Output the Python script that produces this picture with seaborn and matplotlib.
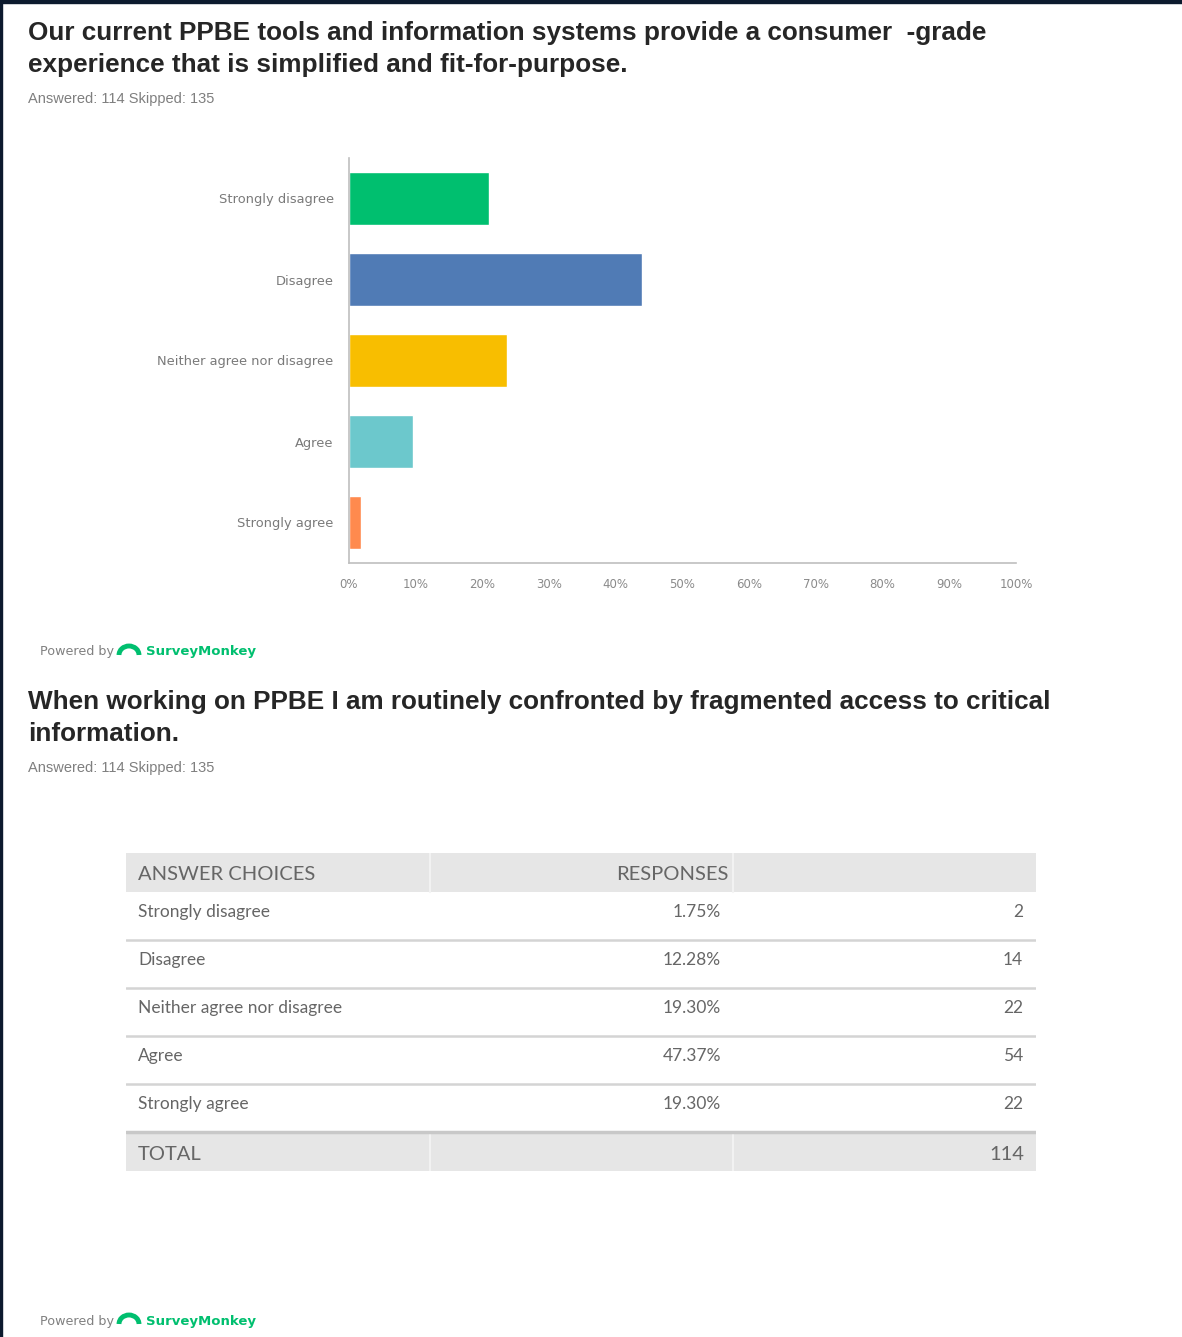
import numpy as np
import pandas as pd
import matplotlib
matplotlib.use("Agg")
import matplotlib.pyplot as plt
from matplotlib.patches import Rectangle, Arc
import seaborn as sns

sns.set_style("white")
plt.rcParams['font.family'] = ['DejaVu Sans']

# --- data ---
q1_title = ["Our current PPBE tools and information systems provide a consumer  -grade",
            "experience that is simplified and fit-for-purpose."]
q2_title = ["When working on PPBE I am routinely confronted by fragmented access to critical",
            "information."]
answered_text = "Answered: 114 Skipped: 135"

choices = ["Strongly disagree", "Disagree", "Neither agree nor disagree", "Agree", "Strongly agree"]
q1_pct = [21.05, 43.86, 23.68, 9.65, 1.75]
bar_colors = ["#00bf6f", "#507bb5", "#f8be00", "#6cc8cc", "#ff8a4e"]

q2_pct = ["1.75%", "12.28%", "19.30%", "47.37%", "19.30%"]
q2_count = [2, 14, 22, 54, 22]
q2_total = 114

W, H = 1182, 1337
fig = plt.figure(figsize=(W / 100, H / 100), dpi=100)
fig.patch.set_facecolor("white")


def fx(px):
    return px / W


def fy(py):
    return 1 - py / H


# dark frame edges
fig.patches.append(Rectangle((0, fy(3)), 1, 3 / H, transform=fig.transFigure,
                             color="#0c1a2e", zorder=10))
fig.patches.append(Rectangle((0, 0), 2 / W, 1, transform=fig.transFigure,
                             color="#0c1a2e", zorder=10))

# --- headings ---
title_font = dict(family="Liberation Sans", fontsize=18.8, color="#262626", weight="bold")
sub_font = dict(family="Liberation Sans", fontsize=10.5, color="#7f7f7f")
fig.text(fx(28), fy(33), q1_title[0], va="center", **title_font)
fig.text(fx(28), fy(65), q1_title[1], va="center", **title_font)
fig.text(fx(28), fy(99), answered_text, va="center", **sub_font)

fig.text(fx(28), fy(702), q2_title[0], va="center", **title_font)
fig.text(fx(28), fy(734), q2_title[1], va="center", **title_font)
fig.text(fx(28), fy(768), answered_text, va="center", **sub_font)


# --- powered by footers ---
def powered_by(y):
    fig.text(fx(40), fy(y), "Powered by", va="center", fontsize=9.2, color="#808080")
    fig.patches.append(Arc((fx(129), fy(y + 3)), 20 / W, 18 / H, theta1=0, theta2=180,
                           transform=fig.transFigure, color="#00bf6f", lw=3.5))
    fig.text(fx(146), fy(y), "SurveyMonkey", va="center", fontsize=9.5,
             color="#00bf6f", weight="bold")


powered_by(652)
powered_by(1321)

# --- Q1 bar chart ---
ax = fig.add_axes([fx(349), fy(563), 667 / W, 405 / H])
df = pd.DataFrame({"choice": choices, "pct": q1_pct})
sns.barplot(data=df, x="pct", y="choice", hue="choice", palette=bar_colors,
            legend=False, width=0.65, saturation=1, ax=ax)
ax.set_xlim(0, 100)
ax.set_ylim(len(choices) - 0.5, -0.5)
ax.set_xlabel("")
ax.set_ylabel("")
ax.set_xticks(np.arange(0, 101, 10))
ax.set_xticklabels([f"{t}%" for t in range(0, 101, 10)], fontsize=8.5, color="#8a8a8a")
ax.set_yticks(range(len(choices)))
ax.set_yticklabels(choices, fontsize=9.4, color="#7a7a7a")
ax.set_yticks(np.arange(-0.5, len(choices), 1), minor=True)
ax.tick_params(axis="y", which="major", length=0, pad=11)
ax.tick_params(axis="y", which="minor", length=4, color="#bfbfbf", width=1, direction="out")
ax.tick_params(axis="x", which="major", length=4, color="#bfbfbf", width=1, pad=7,
               direction="out")
for side in ["top", "right"]:
    ax.spines[side].set_visible(False)
for side in ["left", "bottom"]:
    ax.spines[side].set_color("#bfbfbf")
    ax.spines[side].set_linewidth(1.2)
ax.grid(False)

# --- Q2 table ---
tab = fig.add_axes([fx(126), fy(1171), 910 / W, 318 / H])
tab.set_xlim(0, 910)
tab.set_ylim(318, 0)
tab.axis("off")

band = "#e6e6e6"
head_h = 39
row_h = 48
col_seps = [304, 607]

tab.add_patch(Rectangle((0, 0), 910, head_h, color=band, lw=0))
tab.add_patch(Rectangle((0, 280), 910, 38, color=band, lw=0))
for cx in col_seps:
    tab.plot([cx, cx], [0, head_h], color="#f2f2f2", lw=1.5)
    tab.plot([cx, cx], [280, 318], color="#f2f2f2", lw=1.5)

table_font = dict(family="Lato", color="#666666")
tab.text(12, 21, "ANSWER CHOICES", va="center", fontsize=14.5, **table_font)
tab.text(602, 21, "RESPONSES", va="center", ha="right", fontsize=14.5, **table_font)

for i, (c, p, n) in enumerate(zip(choices, q2_pct, q2_count)):
    top = head_h + i * row_h
    ty = top + 20
    tab.text(12, ty, c, va="center", fontsize=12.5, **table_font)
    tab.text(595, ty, p, va="center", ha="right", fontsize=12.5, **table_font)
    tab.text(897, ty, str(n), va="center", ha="right", fontsize=12.5, **table_font)
    if i < len(choices) - 1:
        tab.plot([0, 910], [top + row_h, top + row_h], color="#d4d4d4", lw=1.8)
tab.plot([0, 910], [279, 279], color="#c8c8c8", lw=2.5)

tab.text(12, 301, "TOTAL", va="center", fontsize=14.5, **table_font)
tab.text(898, 301, str(q2_total), va="center", ha="right", fontsize=14.5, **table_font)

fig.savefig("out.png", dpi=100, facecolor="white")
plt.close(fig)
